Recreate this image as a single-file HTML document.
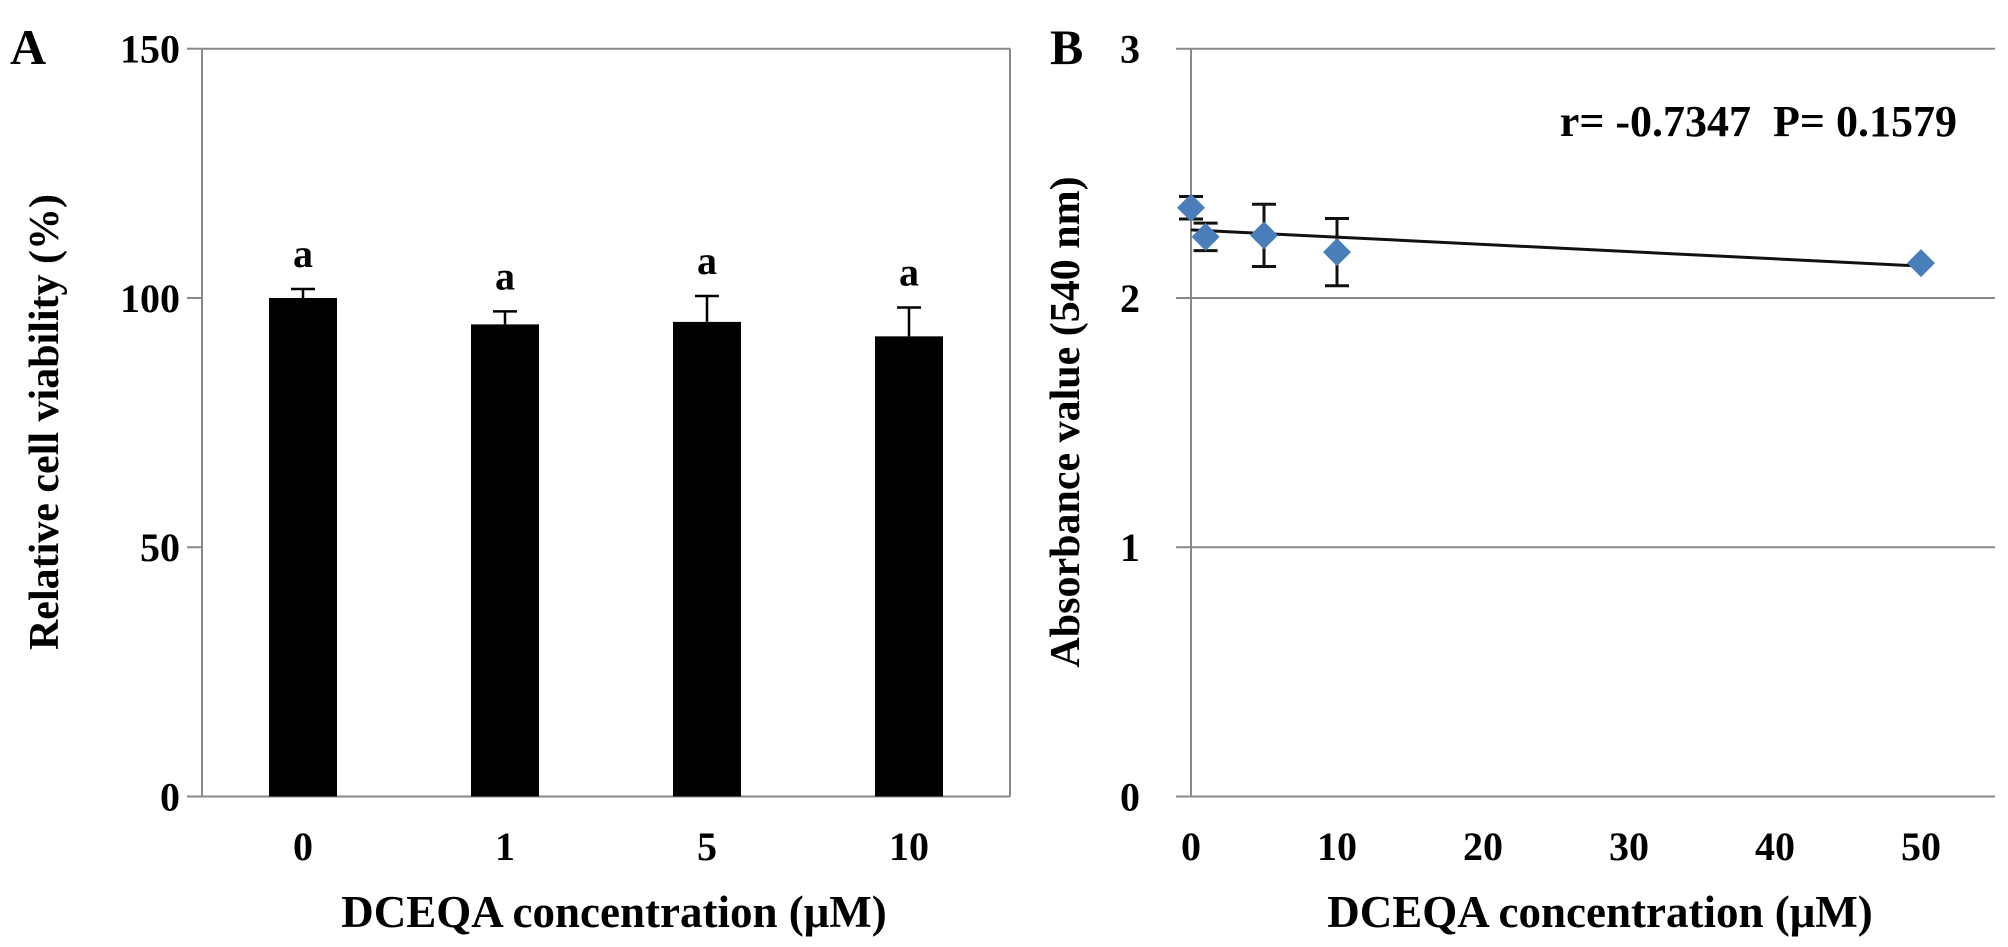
<!DOCTYPE html>
<html><head><meta charset="utf-8"><style>
html,body{margin:0;padding:0;background:#fff;}
svg{display:block;}
text{font-family:"Liberation Serif",serif;font-weight:bold;fill:#000;}
</style></head><body>
<svg id="fig" width="2008" height="947" viewBox="0 0 2008 947" xmlns="http://www.w3.org/2000/svg">
<text x="10" y="64" font-size="50">A</text>
<text x="1050" y="64" font-size="50">B</text>
<text transform="translate(58,422) rotate(-90)" text-anchor="middle" font-size="42">Relative cell viability (%)</text>
<text x="614" y="927" text-anchor="middle" font-size="45">DCEQA concentration (μM)</text>
<text transform="translate(1079,422) rotate(-90)" text-anchor="middle" font-size="42">Absorbance value (540 nm)</text>
<text x="1600" y="927" text-anchor="middle" font-size="45">DCEQA concentration (μM)</text>
<text x="1957" y="136" text-anchor="end" font-size="44" xml:space="preserve">r= -0.7347  P= 0.1579</text>
<g id="ga"></g>
<g id="gb"></g>
</svg>
<script>
const aCategories = ["0","1","5","10"];
const aValues = [100, 94.7, 95.2, 92.3];
const aErrors = [1.8, 2.6, 5.2, 5.8];
const aLetters = ["a","a","a","a"];
const aTicks = [0, 50, 100, 150];

const bX = [0, 1, 5, 10, 50];
const bY = [2.362, 2.245, 2.251, 2.184, 2.14];
const bErr = [0.045, 0.055, 0.125, 0.135, 0];
const bTicksY = [0, 1, 2, 3];
const bTicksX = [0, 10, 20, 30, 40, 50];
const bTrend = [2.273, -0.0029];

const NS = "http://www.w3.org/2000/svg";
function mk(parent, tag, attrs, txt){
  const e = document.createElementNS(NS, tag);
  for (const k in attrs) e.setAttribute(k, attrs[k]);
  if (txt !== undefined) e.textContent = txt;
  parent.appendChild(e);
  return e;
}
const TOP = 48.7, BOT = 796.5;

// Panel A
const ga = document.getElementById('ga');
const aL = 202, aR = 1010;
const ay = v => BOT - (v / 150) * (BOT - TOP);
const bandW = (aR - aL) / aCategories.length;
const ax = i => aL + bandW * (i + 0.5);
let ln;
ln = mk(ga, 'line', {x1:aL, y1:TOP, x2:aR, y2:TOP, stroke:'#888', 'stroke-width':2});


ln = mk(ga, 'line', {x1:aR, y1:TOP, x2:aR, y2:BOT, stroke:'#888', 'stroke-width':2});


ln = mk(ga, 'line', {x1:aL, y1:TOP, x2:aL, y2:BOT, stroke:'#888', 'stroke-width':2});


ln = mk(ga, 'line', {x1:aL-15, y1:BOT, x2:aR, y2:BOT, stroke:'#888', 'stroke-width':2});


aTicks.forEach(t => {
  const y = ay(t);
  const tk = mk(ga, 'line', {x1:aL-15, y1:y, x2:aL, y2:y, stroke:'#888', 'stroke-width':2});
  
  
  const lb = mk(ga, 'text', {x:180, y:y+14, 'text-anchor':'end', 'font-size':40}, String(t));
  
  
});
const barW = 68;
aCategories.forEach((c, i) => {
  const cx = ax(i), v = aValues[i], e = aErrors[i];
  const r = mk(ga, 'rect', {x:cx-barW/2, y:ay(v), width:barW, height:BOT-ay(v), fill:'#000'});
  
  
  const el = mk(ga, 'path', {d:`M${cx},${ay(v)}V${ay(v+e)}M${cx-12},${ay(v+e)}H${cx+12}`, stroke:'#000', 'stroke-width':2.5, fill:'none'});
  
  
  const lt = mk(ga, 'text', {x:cx, y:ay(v+e)-22, 'text-anchor':'middle', 'font-size':40}, aLetters[i]);
  
  
  const xl = mk(ga, 'text', {x:cx, y:860, 'text-anchor':'middle', 'font-size':40}, c);
  
  
});

// Panel B
const gb = document.getElementById('gb');
const bL = 1191, bR = 1995;
const bx = v => bL + v * 14.6;
const by = v => BOT - (v / 3) * (BOT - TOP);
bTicksY.forEach(t => {
  const y = by(t);
  const g = mk(gb, 'line', {x1:bL-15, y1:y, x2:bR, y2:y, stroke:'#888', 'stroke-width':2});
  
  
  const lb = mk(gb, 'text', {x:1140, y:y+14, 'text-anchor':'end', 'font-size':40}, String(t));
  
  
});
ln = mk(gb, 'line', {x1:bL, y1:TOP, x2:bL, y2:BOT, stroke:'#888', 'stroke-width':2});


bTicksX.forEach(t => {
  const lb = mk(gb, 'text', {x:bx(t), y:860, 'text-anchor':'middle', 'font-size':40}, String(t));
  
  
});
bX.forEach((xv, i) => {
  const cx = bx(xv), e = bErr[i], y = bY[i];
  if (e > 0) {
    const el = mk(gb, 'path', {d:`M${cx},${by(y+e)}V${by(y-e)}M${cx-12},${by(y+e)}H${cx+12}M${cx-12},${by(y-e)}H${cx+12}`, stroke:'#111', 'stroke-width':3, fill:'none'});
    
    
  }
});
const tl = mk(gb, 'line', {x1:bx(0), y1:by(bTrend[0]), x2:bx(50), y2:by(bTrend[0]+bTrend[1]*50), stroke:'#111', 'stroke-width':3});


bX.forEach((xv, i) => {
  const cx = bx(xv), cy = by(bY[i]), h = 14;
  const d = mk(gb, 'path', {d:`M${cx},${cy-h}L${cx+h},${cy}L${cx},${cy+h}L${cx-h},${cy}Z`, fill:'#4a7ebb'});
  
  
});
</script>
</body></html>
